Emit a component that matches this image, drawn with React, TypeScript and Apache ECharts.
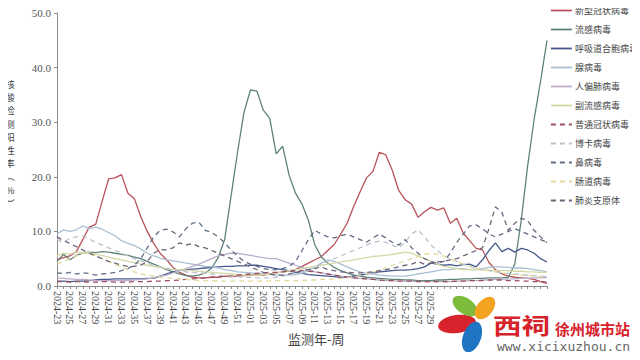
import React, { useEffect, useRef } from "react";
import * as echarts from "echarts";

// week labels: 2024-23 … 2024-52, 2025-01 … 2025-47
const weeks2024: number[] = [23,24,25,26,27,28,29,30,31,32,33,34,35,36,37,38,39,40,41,42,43,44,45,46,47,48,49,50,51,52];
const weeks2025: number[] = [1,2,3,4,5,6,7,8,9,10,11,12,13,14,15,16,17,18,19,20,21,22,23,24,25,26,27,28,29,30,31,32,33,34,35,36,37,38,39,40,41,42,43,44,45,46,47];
const pad = (n: number) => (n < 10 ? "0" + n : "" + n);
const categories: string[] = [
  ...weeks2024.map((w) => "2024-" + pad(w)),
  ...weeks2025.map((w) => "2025-" + pad(w)),
];

const yTicks: number[] = [0, 10, 20, 30, 40, 50];
const yTitleChars: string[] = ["核", "酸", "检", "测", "阳", "性", "率", "︵", "%", "︶"];

const covid: number[] = [4.8,5.2,5.5,6.3,8.5,10.8,11.3,15.5,19.6,19.8,
  20.4,17.0,16.0,12.7,10.0,7.8,6.0,4.8,3.4,2.5,
  2.0,1.6,1.5,1.5,1.6,1.6,1.8,1.7,1.8,1.9,
  2.0,2.1,2.0,2.2,2.4,2.6,2.8,3.0,3.6,4.2,
  4.8,5.4,6.5,7.6,9.5,11.5,14.5,17.2,19.8,21.0,
  24.5,24.0,21.2,17.5,15.8,15.0,12.6,13.6,14.4,13.9,
  14.3,11.5,12.4,9.7,8.3,6.9,6.6,4.3,3.0,2.2,
  1.8,1.6,1.5,1.4,1.2,0.8,0.5];
const flu: number[] = [4.5,5.8,4.8,5.6,6.0,6.2,6.1,6.3,6.2,6.0,
  5.8,5.6,5.3,5.0,4.5,4.0,3.5,3.0,2.6,2.2,
  1.9,1.8,2.0,2.4,3.3,5.2,8.5,16.5,24.5,31.8,
  35.9,35.7,32.2,30.7,24.2,25.6,20.3,17.0,15.0,12.0,
  7.5,5.3,4.2,3.4,2.8,2.4,2.0,1.8,1.6,1.5,
  1.4,1.3,1.2,1.2,1.1,1.1,1.0,1.0,1.0,1.1,
  1.1,1.2,1.2,1.3,1.3,1.4,1.4,1.5,1.5,1.5,
  1.6,4.0,12.0,22.0,30.5,37.5,45.0];
const rsv: number[] = [0.9,0.9,0.8,0.9,0.9,1.0,1.1,1.2,1.2,1.3,
  1.3,1.3,1.3,1.3,1.4,1.4,1.8,2.2,2.6,2.9,
  3.0,3.1,3.2,3.3,3.4,3.5,3.6,3.6,3.7,3.7,
  3.8,3.8,3.6,3.4,3.2,3.0,2.8,2.5,2.3,2.1,
  2.0,1.9,1.8,1.7,1.6,1.6,1.8,2.0,2.2,2.4,
  2.6,2.7,2.8,2.9,2.9,3.0,3.2,3.5,4.2,4.0,
  3.8,3.9,3.7,3.9,4.0,3.5,4.8,6.5,7.9,6.3,
  6.9,6.2,6.9,6.6,6.0,5.0,4.4];
const adeno: number[] = [9.5,10.3,10.0,10.3,11.0,10.5,10.8,10.4,9.8,9.2,
  8.3,7.8,7.4,6.8,6.0,5.5,5.1,4.8,4.6,4.4,
  4.2,4.0,3.8,3.6,3.5,3.3,3.0,2.8,2.6,2.5,
  2.4,2.3,2.2,2.1,2.0,2.0,2.0,2.1,2.3,2.8,
  3.5,4.2,4.8,4.5,4.0,3.5,3.0,2.6,2.3,2.2,
  2.0,1.9,1.8,1.8,1.8,2.0,2.2,2.4,2.6,2.8,
  3.0,3.0,3.2,3.2,3.0,3.0,3.2,3.4,3.5,3.5,
  3.4,3.3,3.3,3.2,3.0,2.8,2.6];
const hmpv: number[] = [1.5,1.4,1.3,1.2,1.2,1.1,1.0,1.0,1.0,1.0,
  1.0,1.0,1.1,1.2,1.3,1.5,1.8,2.0,2.4,2.8,
  3.2,3.6,4.0,4.5,5.0,5.5,5.8,6.0,6.0,5.8,
  5.6,5.4,5.2,5.0,5.0,4.6,4.2,3.8,3.4,3.0,
  2.6,2.4,2.2,2.0,1.8,1.6,1.5,1.4,1.3,1.2,
  1.1,1.0,1.0,0.9,0.9,0.9,0.8,0.8,0.8,0.8,
  0.8,0.8,0.9,0.9,1.0,1.0,1.1,1.1,1.2,1.2,
  1.3,1.3,1.4,1.4,1.5,1.5,1.6];
const paraflu: number[] = [5.5,6.0,5.8,6.2,6.0,6.1,5.8,5.6,5.3,5.0,
  4.8,4.5,4.3,4.0,3.8,3.6,3.4,3.2,3.0,3.0,
  2.9,2.8,2.7,2.6,2.5,2.4,2.3,2.2,2.1,2.0,
  2.0,2.0,2.1,2.2,2.4,2.6,2.8,3.0,3.2,3.4,
  3.6,3.8,4.0,4.2,4.4,4.6,4.8,5.0,5.2,5.4,
  5.5,5.6,5.8,6.0,6.2,6.0,5.5,5.0,4.5,4.0,
  3.6,3.4,3.2,3.0,3.0,3.0,2.9,2.9,2.8,2.8,
  2.8,2.7,2.7,2.6,2.6,2.5,2.5];
const hcov: number[] = [0.8,0.8,0.7,0.8,0.8,0.7,0.7,0.8,0.8,0.7,
  0.7,0.7,0.8,0.8,0.8,0.9,0.9,1.0,1.0,1.1,
  1.2,1.3,1.4,1.5,1.6,1.7,1.8,1.9,2.0,2.1,
  2.2,2.3,2.4,2.5,2.5,2.6,2.7,2.8,2.8,2.7,
  2.6,2.4,2.2,2.0,1.8,1.6,1.5,1.4,1.3,1.2,
  1.1,1.0,1.0,0.9,0.9,0.9,0.8,0.8,0.8,0.8,
  0.8,0.8,0.9,0.9,1.0,1.0,1.0,1.1,1.1,1.1,
  1.0,1.0,0.9,0.9,0.8,0.8,0.7];
const boca: number[] = [8.5,8.0,8.7,9.0,9.2,8.6,8.0,7.5,7.0,6.5,
  6.0,5.5,5.0,4.6,4.2,3.8,3.5,3.2,3.0,2.8,
  2.6,2.5,2.4,2.3,2.2,2.0,1.9,1.8,1.7,1.6,
  1.6,1.5,1.5,1.5,1.6,1.8,2.0,2.3,2.6,3.0,
  3.5,4.0,4.5,5.0,5.5,6.0,6.5,7.0,7.5,8.0,
  8.2,8.0,7.5,7.0,8.0,9.5,10.3,9.0,7.5,6.5,
  5.5,5.0,4.5,4.0,3.6,3.2,3.0,2.8,2.6,2.4,
  2.3,2.2,2.1,2.0,1.9,1.8,1.7];
const rhino: number[] = [2.4,2.3,2.5,2.2,2.4,2.3,2.0,2.2,2.3,2.5,
  2.8,3.2,3.8,5.0,7.0,9.0,10.2,10.4,9.9,9.0,
  10.5,11.5,11.7,10.2,9.8,9.0,7.9,6.6,5.5,4.5,
  4.0,3.6,3.2,3.0,3.0,3.2,3.6,4.5,6.5,8.5,
  10.2,9.5,9.0,8.8,9.2,9.5,9.0,8.5,8.0,8.8,
  9.5,8.8,8.0,7.5,8.5,7.0,6.0,5.0,4.5,4.2,
  4.5,6.0,8.0,9.5,11.0,11.2,10.5,9.5,9.0,9.5,
  10.0,10.5,10.0,9.5,9.0,8.5,8.0];
const entero: number[] = [4.0,4.5,5.0,5.5,6.0,6.0,5.5,5.0,4.5,4.0,
  3.5,3.0,2.6,2.2,2.0,1.8,1.6,1.5,1.4,1.3,
  1.2,1.1,1.0,1.0,1.0,0.9,0.9,0.9,0.9,0.9,
  0.9,0.9,0.9,0.9,1.0,1.0,1.0,1.0,1.0,1.1,
  1.1,1.2,1.2,1.3,1.4,1.5,1.7,1.9,2.2,2.5,
  2.9,3.3,3.8,4.2,4.6,5.0,5.4,5.8,6.0,5.8,
  5.5,5.0,4.5,4.0,3.6,3.3,3.0,2.8,2.6,2.4,
  2.2,2.1,2.0,1.9,1.8,1.7,1.6];
const mycoplasma: number[] = [9.0,8.3,7.8,7.2,6.6,6.0,5.5,5.0,4.5,4.2,
  3.8,3.6,3.6,3.8,4.5,6.0,6.7,6.6,7.0,7.9,
  7.5,7.8,7.2,7.0,6.5,6.0,5.5,5.0,4.5,4.0,
  3.5,3.0,2.5,2.2,2.0,2.0,2.2,2.5,2.8,3.0,
  3.2,3.5,3.0,2.8,2.6,2.5,2.4,2.4,2.5,2.6,
  2.8,3.0,3.2,3.5,3.8,4.0,4.5,4.0,4.2,4.4,
  4.5,4.8,5.0,5.5,6.0,6.5,7.0,10.5,14.5,13.5,
  10.2,11.5,12.4,12.0,10.2,9.0,7.9];

const seriesNames: string[] = [
  "新型冠状病毒", "流感病毒", "呼吸道合胞病毒", "腺病毒", "人偏肺病毒", "副流感病毒",
  "普通冠状病毒", "博卡病毒", "鼻病毒", "肠道病毒", "肺炎支原体",
];
const seriesData: number[][] = [covid, flu, rsv, adeno, hmpv, paraflu, hcov, boca, rhino, entero, mycoplasma];
const seriesColors: string[] = [
  "#b9525a", "#5e8479", "#475a8e", "#a9bfd2", "#bcaecb", "#d3d9a6",
  "#9b4f5e", "#bcc0cb", "#5f6d84", "#e3d89a", "#6e6279",
];
const seriesDashed: boolean[] = [false, false, false, false, false, false, true, true, true, true, true];

export default function App() {
  const ref = useRef<HTMLDivElement>(null);
  useEffect(() => {
    if (!ref.current) return;
    const chart = echarts.init(ref.current, null, { renderer: "svg" });
    const serif = "'Liberation Serif', 'Times New Roman', serif";
    const cjk = "'Noto Sans CJK SC', sans-serif";
    const yTitle = yTitleChars.map((ch, i) => ({
      type: "text",
      x: 10,
      y: 84 + i * 13.2,
      style: {
        text: ch,
        font: "9.5px 'Noto Sans CJK SC'",
        fill: "#444",
        align: "center",
        verticalAlign: "middle",
      },
    }));
    const Z = 100;
    chart.setOption({
      animation: false,
      backgroundColor: "#ffffff",
      grid: { left: 57, right: 93, top: 13, bottom: 74, containLabel: false, outerBoundsMode: "none" },
      legend: {
        orient: "vertical",
        left: 550,
        top: 6,
        padding: 0,
        itemWidth: 21,
        itemHeight: 10,
        itemGap: 10,
        data: seriesNames,
        itemStyle: { opacity: 0 },
        lineStyle: { width: 1.8 },
        textStyle: { fontSize: 9, fontFamily: cjk, color: "#444", padding: [0, 0, 0, -2] },
      },
      xAxis: {
        type: "category",
        data: categories,
        boundaryGap: false,
        axisLine: { lineStyle: { color: "#8a8a8a", width: 1 } },
        axisTick: { show: true, interval: 0, length: 3, lineStyle: { color: "#8a8a8a" } },
        axisLabel: {
          interval: 1,
          rotate: -90,
          fontSize: 10,
          fontFamily: serif,
          color: "#444",
          margin: 5,
        },
        splitLine: { show: false },
      },
      yAxis: {
        type: "value",
        min: yTicks[0],
        max: yTicks[yTicks.length - 1],
        interval: 10,
        axisLine: { show: true, lineStyle: { color: "#8a8a8a", width: 1 } },
        axisTick: { show: true, length: 3, lineStyle: { color: "#8a8a8a" } },
        axisLabel: {
          fontSize: 11,
          fontFamily: serif,
          color: "#555",
          margin: 6,
          formatter: (v: number) => v.toFixed(1),
        },
        splitLine: { show: false },
      },
      series: seriesNames.map((name, i) => ({
        name,
        type: "line",
        data: seriesData[i],
        showSymbol: false,
        symbol: "none",
        color: seriesColors[i],
        lineStyle: { color: seriesColors[i], width: 1.3, type: seriesDashed[i] ? [5, 4] : "solid" },
      })),
      graphic: [
        ...yTitle,
        {
          type: "text",
          left: 288,
          top: 332,
          style: { text: "监测年-周", font: "13px 'Noto Sans CJK SC'", fill: "#444" },
        },
        {
          type: "rect",
          z: Z,
          shape: { x: 436, y: 290, width: 204, height: 70 },
          style: { fill: "#ffffff" },
        },
        {
          type: "ellipse",
          z: Z + 1,
          x: 457, y: 324, rotation: 0.15,
          shape: { cx: 0, cy: 0, rx: 19, ry: 9 },
          style: { fill: "#d6232c" },
        },
        {
          type: "ellipse",
          z: Z + 1,
          x: 465, y: 306, rotation: -0.6,
          shape: { cx: 0, cy: 0, rx: 14, ry: 8 },
          style: { fill: "#7dbb3c" },
        },
        {
          type: "ellipse",
          z: Z + 1,
          x: 485, y: 308, rotation: 0.9,
          shape: { cx: 0, cy: 0, rx: 13, ry: 8 },
          style: { fill: "#f2a31f" },
        },
        {
          type: "ellipse",
          z: Z + 1,
          x: 472, y: 337, rotation: -0.35,
          shape: { cx: 0, cy: 0, rx: 9, ry: 16 },
          style: { fill: "#1f74c4" },
        },
        {
          type: "text",
          z: Z + 2,
          x: 493,
          y: 324,
          scaleX: 1.3,
          style: { text: "西祠", font: "bold 22px 'Noto Sans CJK SC'", fill: "#d6232c", verticalAlign: "middle" },
        },
        {
          type: "text",
          z: Z + 2,
          x: 555,
          y: 328,
          style: { text: "徐州城市站", font: "bold 15px 'Noto Sans CJK SC'", fill: "#d6232c", verticalAlign: "middle" },
        },
        {
          type: "text",
          z: Z + 2,
          x: 497,
          y: 346,
          style: { text: "www.xicixuzhou.cn", font: "13px 'DejaVu Sans Mono'", fill: "#666", verticalAlign: "middle" },
        },
      ],
    });
    return () => chart.dispose();
  }, []);
  return <div ref={ref} style={{ width: 640, height: 360, margin: -8 }} />;
}
